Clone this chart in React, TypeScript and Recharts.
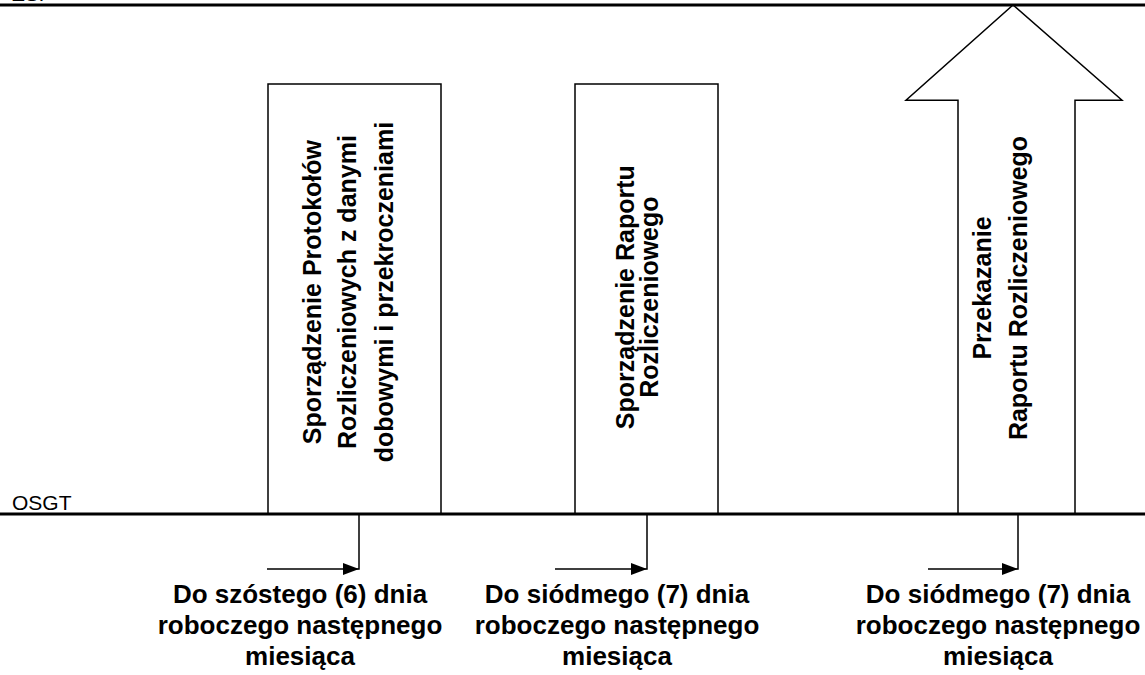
import React from 'react';
import { ComposedChart, XAxis, YAxis, ReferenceLine, ReferenceArea, Line, Scatter } from 'recharts';

// ---- data ----
const levelNames = ['ZSP', 'OSGT'];
const levelValues = [100, 0];
const levelLabelX = 12;

const box1Lines = ['Sporządzenie Protokołów', 'Rozliczeniowych z danymi', 'dobowymi i przekroczeniami'];
const box2Lines = ['Sporządzenie Raportu', 'Rozliczeniowego'];
const boxStart = [268, 575];
const boxEnd = [441, 718];
const boxTop = [84.5, 84.5];
const box1LineX = [312, 347, 384];
const box2LineX = [625, 649];
const boxTextY = [43.6, 42.6];

const arrowLines = ['Przekazanie', 'Raportu Rozliczeniowego'];
const arrowLineX = [982, 1018];
const arrowTextY = 44.4;
const arrowShaft = [958, 1075];
const arrowHead = [906, 1122];
const arrowTipX = 1013;
const arrowHeadBase = 81.3;
const arrowTipY = 100;

const deadlineLines = [
  ['Do szóstego (6) dnia', 'roboczego następnego', 'miesiąca'],
  ['Do siódmego (7) dnia', 'roboczego następnego', 'miesiąca'],
  ['Do siódmego (7) dnia', 'roboczego następnego', 'miesiąca'],
];
const deadlineX = [359, 647, 1018];
const deadlineFrom = [267, 555, 928];
const deadlineY = -10.8;
const deadlineTextX = [300, 617, 998];

// ---- derived tables ----
const FONT = '"Liberation Sans", Arial, sans-serif';

const levelPoints = levelNames.map((name, i) => ({ x: levelLabelX, y: levelValues[i], text: name }));

const rotatedPoints = [
  ...box1Lines.map((t, i) => ({ x: box1LineX[i], y: boxTextY[0], text: t })),
  ...box2Lines.map((t, i) => ({ x: box2LineX[i], y: boxTextY[1], text: t })),
  ...arrowLines.map((t, i) => ({ x: arrowLineX[i], y: arrowTextY, text: t })),
];

const deadlineTextPoints = deadlineLines.flatMap((lines, k) =>
  lines.map((t, i) => ({ x: deadlineTextX[k], y: deadlineY, text: t, line: i }))
);

const arrowOutline = [
  { x: arrowShaft[0], y: levelValues[1] },
  { x: arrowShaft[0], y: arrowHeadBase },
  { x: arrowHead[0], y: arrowHeadBase },
  { x: arrowTipX, y: arrowTipY },
  { x: arrowHead[1], y: arrowHeadBase },
  { x: arrowShaft[1], y: arrowHeadBase },
  { x: arrowShaft[1], y: levelValues[1] },
];

const connectorData = deadlineX.map((x, i) => [
  { x: deadlineFrom[i], y: deadlineY },
  { x, y: deadlineY },
  { x, y: levelValues[1] },
]);

const ArrowDot = (p: any) => {
  if (p.index !== 1) return <g key={`d${p.index}`} />;
  const { cx, cy } = p;
  return (
    <polygon
      key={`d${p.index}`}
      points={`${cx},${cy} ${cx - 16},${cy - 6} ${cx - 16},${cy + 6}`}
      fill="#000"
    />
  );
};

export default function App() {
  return (
    <div style={{ position: 'absolute', left: 0, top: 0, width: 1145, height: 675, background: '#fff' }}>
      <ComposedChart width={1145} height={675} margin={{ top: 0, right: 0, bottom: 0, left: 0 }}>
        <XAxis hide type="number" dataKey="x" domain={[0, 1145]} allowDataOverflow />
        <YAxis hide type="number" dataKey="y" domain={[-31.63, 100.98]} allowDataOverflow />

        {boxStart.map((x1, i) => (
          <ReferenceArea
            key={`box${i}`}
            x1={x1}
            x2={boxEnd[i]}
            y1={levelValues[1]}
            y2={boxTop[i]}
            fill="#fff"
            fillOpacity={1}
            stroke="#000"
            strokeWidth={1.5}
            ifOverflow="visible"
          />
        ))}

        <Line
          data={arrowOutline}
          dataKey="y"
          type="linear"
          stroke="#000"
          strokeWidth={1.5}
          dot={false}
          activeDot={false}
          isAnimationActive={false}
        />

        {connectorData.map((d, i) => (
          <Line
            key={`c${i}`}
            data={d}
            dataKey="y"
            type="linear"
            stroke="#000"
            strokeWidth={1.5}
            dot={ArrowDot}
            activeDot={false}
            isAnimationActive={false}
          />
        ))}

        {levelValues.map((v, i) => (
          <ReferenceLine key={`lvl${i}`} y={v} stroke="#000" strokeWidth={3} ifOverflow="visible" />
        ))}

        <Scatter
          data={levelPoints}
          dataKey="y"
          isAnimationActive={false}
          shape={(p: any) => (
            <text
              x={p.cx}
              y={p.cy - 4}
              fontFamily={FONT}
              fontSize={21}
              fill="#000"
              textAnchor="start"
            >
              {p.payload.text}
            </text>
          )}
        />

        <Scatter
          data={rotatedPoints}
          dataKey="y"
          isAnimationActive={false}
          shape={(p: any) => (
            <text
              x={p.cx}
              y={p.cy}
              transform={`rotate(-90, ${p.cx}, ${p.cy})`}
              fontFamily={FONT}
              fontSize={25}
              fontWeight="bold"
              fill="#000"
              textAnchor="middle"
              dominantBaseline="central"
            >
              {p.payload.text}
            </text>
          )}
        />

        <Scatter
          data={deadlineTextPoints}
          dataKey="y"
          isAnimationActive={false}
          shape={(p: any) => (
            <text
              x={p.cx}
              y={p.cy + 34 + 31 * p.payload.line}
              fontFamily={FONT}
              fontSize={26}
              fontWeight="bold"
              fill="#000"
              textAnchor="middle"
            >
              {p.payload.text}
            </text>
          )}
        />
      </ComposedChart>
    </div>
  );
}
